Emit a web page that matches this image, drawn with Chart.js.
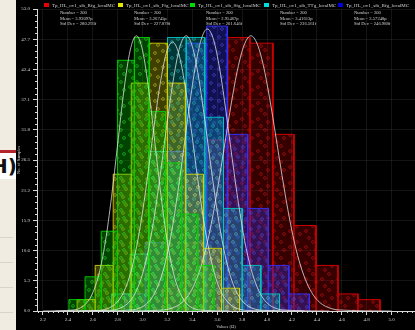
<!DOCTYPE html>
<html><head><meta charset="utf-8">
<script src="https://cdn.jsdelivr.net/npm/chart.js@4/dist/chart.umd.min.js"></script>
<style>
html,body{margin:0;padding:0;width:415px;height:330px;overflow:hidden;background:#f1ece2;}
#side{position:absolute;left:0;top:0;width:16px;height:330px;background:#f1ece2;overflow:hidden;}
#wrap{position:absolute;left:16px;top:0;width:399px;height:330px;background:#000;}
.dash{position:absolute;left:0;width:13px;height:1px;background:#d8d4cc;}
</style></head><body>
<div id="side">
  <div style="position:absolute;left:0;top:150px;width:16px;height:3px;background:#b3262d"></div>
  <div style="position:absolute;left:0;top:153px;width:16px;height:26px;background:#fff"></div>
  <div style="position:absolute;left:-9px;top:154px;font:bold 20px 'DejaVu Sans';color:#111;white-space:nowrap">H)</div>
  <div class="dash" style="top:237px"></div>
  <div class="dash" style="top:262px"></div>
  <div class="dash" style="top:287px"></div>
  <div class="dash" style="top:312px"></div>
</div>
<div id="wrap"><canvas id="c" width="399" height="330" style="width:399px;height:330px"></canvas></div>
<script>
// ---------- data ----------
const seriesNames = ['Tp_HL_ov1_sib_Rfg_localMC','Tp_HL_ov1_sib_Ffg_localMC','Tp_HL_ov1_sib_Sfg_localMC','Tp_HL_ov1_sib_TTg_localMC','Tp_HL_ov1_sib_Bfg_localMC'];
const seriesNumber = ['200','200','200','200','200'];
const seriesMean = ['3.93097p','3.26745p','2.95467p','3.41613p','3.57248p'];
const seriesStd = ['280.293f','227.878f','201.646f','236.561f','246.988f'];

const xTicks = [2.2,2.4,2.6,2.8,3.0,3.2,3.4,3.6,3.8,4.0,4.2,4.4,4.6,4.8,5.0];
const yTicks = [0,5.3,10.6,15.9,21.2,26.5,31.8,37.1,42.4,47.7,53.0];

// histogram bin edges and counts
const redEdges = [3.16,3.335,3.51,3.686,3.863,4.047,4.216,4.393,4.57,4.73,4.907];
const redCounts = [4,12,30,48,47,31,15,8,3,2];
const yellowEdges = [2.474,2.619,2.764,2.909,3.054,3.199,3.344,3.489,3.634,3.779];
const yellowCounts = [2,8,24,40,47,40,24,11,4];
const greenEdges = [2.408,2.538,2.668,2.798,2.934,3.054,3.184,3.314,3.444,3.574];
const greenCounts = [2,6,14,44,48,35,26,17,8];
const cyanEdges = [2.75,2.9,3.05,3.2,3.35,3.5,3.65,3.8,3.95,4.1];
const cyanCounts = [3,10,28,48,48,34,18,8,3];
const blueEdges = [2.855,3.02,3.185,3.35,3.515,3.68,3.845,4.01,4.175,4.34];
const blueCounts = [3,12,28,47,50,31,18,8,3];

// fitted curves
const greenCurveX = [2.2,2.45,2.5,2.55,2.6,2.65,2.7,2.75,2.8,2.85,2.9,2.95,3.0,3.05,3.1,3.15,3.2,3.25,3.3,3.35,3.4,3.45,3.7];
const greenCurveY = [0,0.19,0.54,1.4,3.2,6.5,12.0,19.9,29.3,38.7,45.7,48.3,45.7,38.7,29.3,19.9,12.0,6.5,3.2,1.4,0.54,0.19,0];
const yellowCurveX = [2.3,2.64,2.69,2.74,2.79,2.84,2.89,2.94,2.99,3.04,3.09,3.14,3.19,3.24,3.29,3.34,3.39,3.44,3.49,3.54,3.59,3.64,3.69,3.74,3.79,3.84,4.1];
const yellowCurveY = [0,0.09,0.25,0.62,1.43,2.96,5.66,10.0,16.0,23.6,32.0,39.7,45.2,47.2,45.2,39.7,32.0,23.6,16.0,10.0,5.66,2.96,1.43,0.62,0.25,0.09,0];
const cyanCurveX = [2.4,2.75,2.8,2.85,2.9,2.95,3.0,3.05,3.1,3.15,3.2,3.25,3.3,3.35,3.4,3.45,3.5,3.55,3.6,3.65,3.7,3.75,3.8,3.85,3.9,3.95,4.3];
const cyanCurveY = [0,0.14,0.35,0.82,1.77,3.55,6.52,11.1,17.4,25.2,33.5,41.0,46.4,48.3,46.4,41.0,33.5,25.2,17.4,11.1,6.52,3.55,1.77,0.82,0.35,0.14,0];
const blueCurveX = [2.6,2.92,2.97,3.02,3.07,3.12,3.17,3.22,3.27,3.32,3.37,3.42,3.47,3.52,3.57,3.62,3.67,3.72,3.77,3.82,3.87,3.92,3.97,4.02,4.07,4.12,4.5];
const blueCurveY = [0,0.19,0.47,1.04,2.17,4.20,7.47,12.3,18.9,26.7,35.0,42.4,47.6,49.5,47.6,42.4,35.0,26.7,18.9,12.3,7.47,4.20,2.17,1.04,0.47,0.19,0];
const redCurveX = [2.9,3.17,3.22,3.27,3.32,3.37,3.42,3.47,3.52,3.57,3.62,3.67,3.72,3.77,3.82,3.87,3.92,3.97,4.02,4.07,4.12,4.17,4.22,4.27,4.32,4.37,4.42,4.47,4.52,4.57,5.0];
const redCurveY = [0,0.19,0.40,0.82,1.56,2.84,4.88,7.87,12.0,17.4,23.8,30.7,37.4,43.1,46.9,48.3,46.9,43.1,37.4,30.7,23.8,17.4,12.0,7.87,4.88,2.84,1.56,0.82,0.40,0.19,0];

// ---------- helpers ----------
function histPoints(edges, counts){
  const pts = [];
  for (let i = 0; i < counts.length; i++){
    pts.push({x:edges[i], y:0}, {x:edges[i], y:counts[i]}, {x:edges[i+1], y:counts[i]});
  }
  pts.push({x:edges[edges.length-1], y:0});
  return pts;
}
function curvePoints(xs, ys){ return xs.map((x,i)=>({x:x, y:ys[i]})); }
function makePattern(col, a, ringCol, seed){
  const t = document.createElement('canvas'); t.width = 16; t.height = 16;
  const c = t.getContext('2d');
  c.fillStyle = `rgba(${col[0]},${col[1]},${col[2]},${a})`; c.fillRect(0,0,16,16);
  c.strokeStyle = ringCol;
  c.lineWidth = 0.8;
  const spots = seed ? [[3,3],[11,5],[6,11],[14,13]] : [[2,7],[9,2],[12,10],[5,14]];
  spots.forEach(p=>{ c.beginPath(); c.arc(p[0],p[1],1.4,0,Math.PI*2); c.stroke(); });
  return document.getElementById('c').getContext('2d').createPattern(t,'repeat');
}
const cols = {
  red:[220,0,0], yellow:[210,210,0], green:[0,210,0], cyan:[0,200,200], blue:[50,50,255]
};
function histDs(edges, counts, col, a, ringCol, seed){
  return {type:'line', data:histPoints(edges,counts), borderColor:`rgba(${col[0]},${col[1]},${col[2]},0.9)`,
    borderWidth:1, pointRadius:0, tension:0, fill:'origin', order:2,
    backgroundColor:makePattern(col,a,ringCol,seed)};
}
function curveDs(xs, ys){
  return {type:'line', data:curvePoints(xs,ys), borderColor:'rgba(235,235,235,0.75)', borderWidth:1,
    pointRadius:0, cubicInterpolationMode:'monotone', fill:false, order:0};
}

const minorTicks = {
  id:'minorTicks',
  afterDraw(chart){
    const ctx = chart.ctx, xs = chart.scales.x, ys = chart.scales.y;
    ctx.save(); ctx.strokeStyle = '#d8d8d8'; ctx.lineWidth = 1;
    ctx.beginPath();
    for (let i = 0; i < yTicks.length-1; i++){
      const st = (yTicks[i+1]-yTicks[i])/5;
      for (let k = 1; k < 5; k++){
        const py = Math.round(ys.getPixelForValue(yTicks[i]+k*st))+0.5;
        ctx.moveTo(ys.right-2, py); ctx.lineTo(ys.right, py);
      }
    }
    for (let i = 0; i < xTicks.length; i++){
      for (let k = -4; k < 5; k++){
        if (k === 0) continue;
        if (k < 0 && i > 0) continue;
        const v = xTicks[i] + k*0.04;
        if (v < xs.min || v > xs.max) continue;
        const px = Math.round(xs.getPixelForValue(v))+0.5;
        ctx.moveTo(px, xs.top); ctx.lineTo(px, xs.top+2);
      }
    }
    ctx.stroke(); ctx.restore();
  }
};
const statLegend = {
  id:'statLegend',
  afterDraw(chart){
    const ctx = chart.ctx;
    const sq = ['rgb(230,0,0)','rgb(230,230,0)','rgb(0,220,0)','rgb(0,220,220)','rgb(0,0,220)'];
    const xs0 = [28,102,174,248,322];
    ctx.save();
    ctx.textBaseline = 'middle';
    seriesNames.forEach((name,i)=>{
      const x = xs0[i];
      ctx.fillStyle = sq[i];
      ctx.fillRect(x, 3, 5, 4);
      ctx.fillStyle = '#d4d4d4';
      ctx.font = '5px "Liberation Serif"';
      ctx.fillText(name, x+8, 5.5);
      ctx.font = '4.6px "Liberation Serif"';
      ctx.fillText('Number = ' + seriesNumber[i], x+16, 13);
      ctx.fillText('Mean = ' + seriesMean[i], x+16, 18.5);
      ctx.fillText('Std Dev = ' + seriesStd[i], x+16, 24);
    });
    ctx.restore();
  }
};

new Chart(document.getElementById('c'), {
  data:{ datasets:[
    curveDs(greenCurveX, greenCurveY),
    curveDs(yellowCurveX, yellowCurveY),
    curveDs(cyanCurveX, cyanCurveY),
    curveDs(blueCurveX, blueCurveY),
    curveDs(redCurveX, redCurveY),
    histDs(greenEdges, greenCounts, cols.green, 0.32, 'rgba(60,255,60,0.55)', 0),
    histDs(yellowEdges, yellowCounts, cols.yellow, 0.3, 'rgba(255,255,60,0.5)', 1),
    histDs(cyanEdges, cyanCounts, cols.cyan, 0.28, 'rgba(60,230,230,0.5)', 0),
    histDs(blueEdges, blueCounts, cols.blue, 0.32, 'rgba(90,90,255,0.6)', 1),
    histDs(redEdges, redCounts, cols.red, 0.25, 'rgba(255,30,30,0.5)', 0)
  ]},
  options:{
    responsive:false, animation:false, devicePixelRatio:1,
    layout:{padding:{top:9,right:0,left:0,bottom:0}},
    plugins:{legend:{display:false}, tooltip:{enabled:false}},
    scales:{
      x:{type:'linear', min:2.152, max:5.188,
        afterBuildTicks:(a)=>{ a.ticks = xTicks.map(v=>({value:v})); },
        afterFit:(s)=>{ s.height = 19; },
        ticks:{color:'#cfcfcf', font:{family:'Liberation Serif', size:5}, padding:2,
          callback:(v)=>Number(v).toFixed(1), maxRotation:0, autoSkip:false},
        grid:{color:'rgba(255,255,255,0.08)', tickLength:4, tickColor:'#d8d8d8'},
        border:{color:'#d8d8d8'},
        title:{display:true, text:'Values (Ω)', color:'#cfcfcf', font:{family:'Liberation Serif', size:4.5}, padding:0}
      },
      y:{type:'linear', min:0, max:53,
        afterBuildTicks:(a)=>{ a.ticks = yTicks.map(v=>({value:v})); },
        afterFit:(s)=>{ s.width = 21; },
        ticks:{color:'#cfcfcf', font:{family:'Liberation Serif', size:5}, padding:3,
          callback:(v)=>Number(v).toFixed(1), autoSkip:false},
        grid:{color:'rgba(255,255,255,0.08)', tickLength:4, tickColor:'#d8d8d8'},
        border:{color:'#d8d8d8'},
        title:{display:true, text:'No. of Samples', color:'#cfcfcf', font:{family:'Liberation Serif', size:4.5}, padding:0}
      }
    }
  },
  plugins:[minorTicks, statLegend]
});
</script>
</body></html>
